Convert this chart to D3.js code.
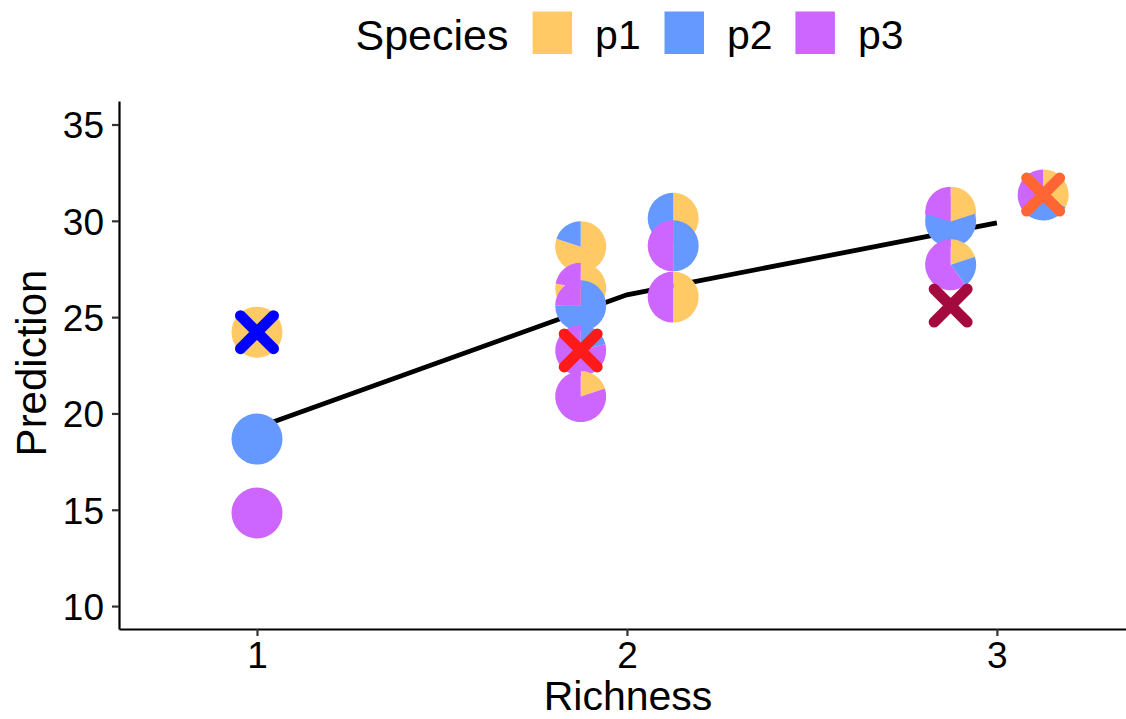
<!DOCTYPE html>
<html>
<head>
<meta charset="utf-8">
<script src="https://cdn.jsdelivr.net/npm/d3@7"></script>
<style>
  html, body { margin: 0; padding: 0; background: #fff; }
  svg { display: block; font-family: "Liberation Sans", Arial, sans-serif; }
</style>
</head>
<body>
<svg id="chart" width="1126" height="719"></svg>
<script>
// ---- data ----
const species = ["p1", "p2", "p3"];
const speciesColors = ["#FFC966", "#6699FF", "#CC66FF"];

// pie glyphs (mixtures), in drawing order
const pieRichness   = [1, 1, 1, 1.875, 1.875, 1.875, 1.875, 1.875, 2.125, 2.125, 2.125, 2.875, 2.875, 2.875, 3.125];
const piePrediction = [24.22, 18.67, 14.83, 28.66, 26.5, 25.59, 23.27, 20.88, 30.13, 28.7, 26.04, 30.45, 29.96, 27.72, 31.34];
const pieP1 = [1, 0, 0, 0.8, 0.78, 0, 0, 0.2, 0.5, 0, 0.5, 0.5, 0.2, 0.2, 0.33];
const pieP2 = [0, 1, 0, 0.2, 0, 0.75, 0.21, 0, 0.5, 0.5, 0, 0, 0.6, 0.2, 0.33];
const pieP3 = [0, 0, 1, 0, 0.22, 0.25, 0.79, 0.8, 0, 0.5, 0.5, 0.5, 0.2, 0.6, 0.34];

// cross markers
const crossRichness   = [1, 1.875, 2.875, 3.125];
const crossPrediction = [24.22, 23.27, 25.6, 31.36];
const crossColors     = ["#0000FF", "#FF1A1A", "#A50A3F", "#FF6633"];

// fitted line
const lineRichness   = [1, 2, 3];
const linePrediction = [19.26, 26.16, 29.89];

// ticks
const xTicks = [1, 2, 3];
const yTicks = [10, 15, 20, 25, 30, 35];

// ---- layout ----
const svg = d3.select("#chart");
const pLeft = 119, pRight = 1126, pTop = 101, pBottom = 629;

const x = d3.scaleLinear().domain([0.627, 3.349]).range([pLeft, pRight]);
const y = d3.scaleLinear().domain([8.81, 36.22]).range([pBottom, pTop]);

// line
svg.append("path")
  .datum(lineRichness.map((r, i) => [r, linePrediction[i]]))
  .attr("fill", "none")
  .attr("stroke", "#000")
  .attr("stroke-width", 4.8)
  .attr("d", d3.line().x(d => x(d[0])).y(d => y(d[1])));

// pies
const R = 25.5;
const pie = d3.pie().sort(null).value(d => d.v);
const arc = d3.arc().innerRadius(0).outerRadius(R);
pieRichness.forEach((r, i) => {
  const vals = [pieP1[i], pieP2[i], pieP3[i]].map((v, k) => ({ v, k }));
  const g = svg.append("g").attr("transform", `translate(${x(r)},${y(piePrediction[i])})`);
  g.selectAll("path")
    .data(pie(vals).filter(d => d.data.v > 0))
    .join("path")
    .attr("d", arc)
    .attr("fill", d => speciesColors[d.data.k]);
});

// crosses
const a = 16.5;
crossRichness.forEach((r, i) => {
  const cx = x(r), cy = y(crossPrediction[i]);
  svg.append("path")
    .attr("d", `M${cx - a},${cy - a}L${cx + a},${cy + a}M${cx - a},${cy + a}L${cx + a},${cy - a}`)
    .attr("stroke", crossColors[i])
    .attr("stroke-width", 11)
    .attr("stroke-linecap", "round")
    .attr("fill", "none");
});

// axes
const xAxis = svg.append("g")
  .attr("transform", `translate(0,${pBottom})`)
  .call(d3.axisBottom(x).tickValues(xTicks).tickFormat(d3.format("d")).tickSize(7).tickSizeOuter(0).tickPadding(6));
const yAxis = svg.append("g")
  .attr("transform", `translate(${pLeft},0)`)
  .call(d3.axisLeft(y).tickValues(yTicks).tickSize(7).tickSizeOuter(0).tickPadding(8));

[xAxis, yAxis].forEach(ax => {
  ax.select(".domain").attr("stroke", "#000").attr("stroke-width", 2.2);
  ax.selectAll(".tick line").attr("stroke", "#333").attr("stroke-width", 2.2);
  ax.selectAll(".tick text")
    .attr("fill", "#000")
    .style("font-size", "37px")
    .style("font-family", "'Liberation Sans', Arial, sans-serif");
});
yAxis.selectAll(".tick text").attr("dy", "0.36em");
xAxis.selectAll(".tick text").attr("dy", "0.71em");

// axis titles
svg.append("text")
  .attr("x", 628).attr("y", 710)
  .attr("text-anchor", "middle")
  .style("font-size", "41px")
  .text("Richness");
svg.append("text")
  .attr("transform", "translate(46,363) rotate(-90)")
  .attr("text-anchor", "middle")
  .style("font-size", "42px")
  .text("Prediction");

// legend
const legend = svg.append("g");
legend.append("text")
  .attr("x", 355.5).attr("y", 50)
  .style("font-size", "43px")
  .text("Species");
const keyX = [532.6, 664.5, 795.4];
species.forEach((s, i) => {
  legend.append("rect")
    .attr("x", keyX[i]).attr("y", 11.5)
    .attr("width", 39.5).attr("height", 42.5)
    .attr("fill", speciesColors[i]);
  legend.append("text")
    .attr("x", keyX[i] + 62.5).attr("y", 48.5)
    .style("font-size", "41px")
    .text(s);
});
</script>
</body>
</html>
